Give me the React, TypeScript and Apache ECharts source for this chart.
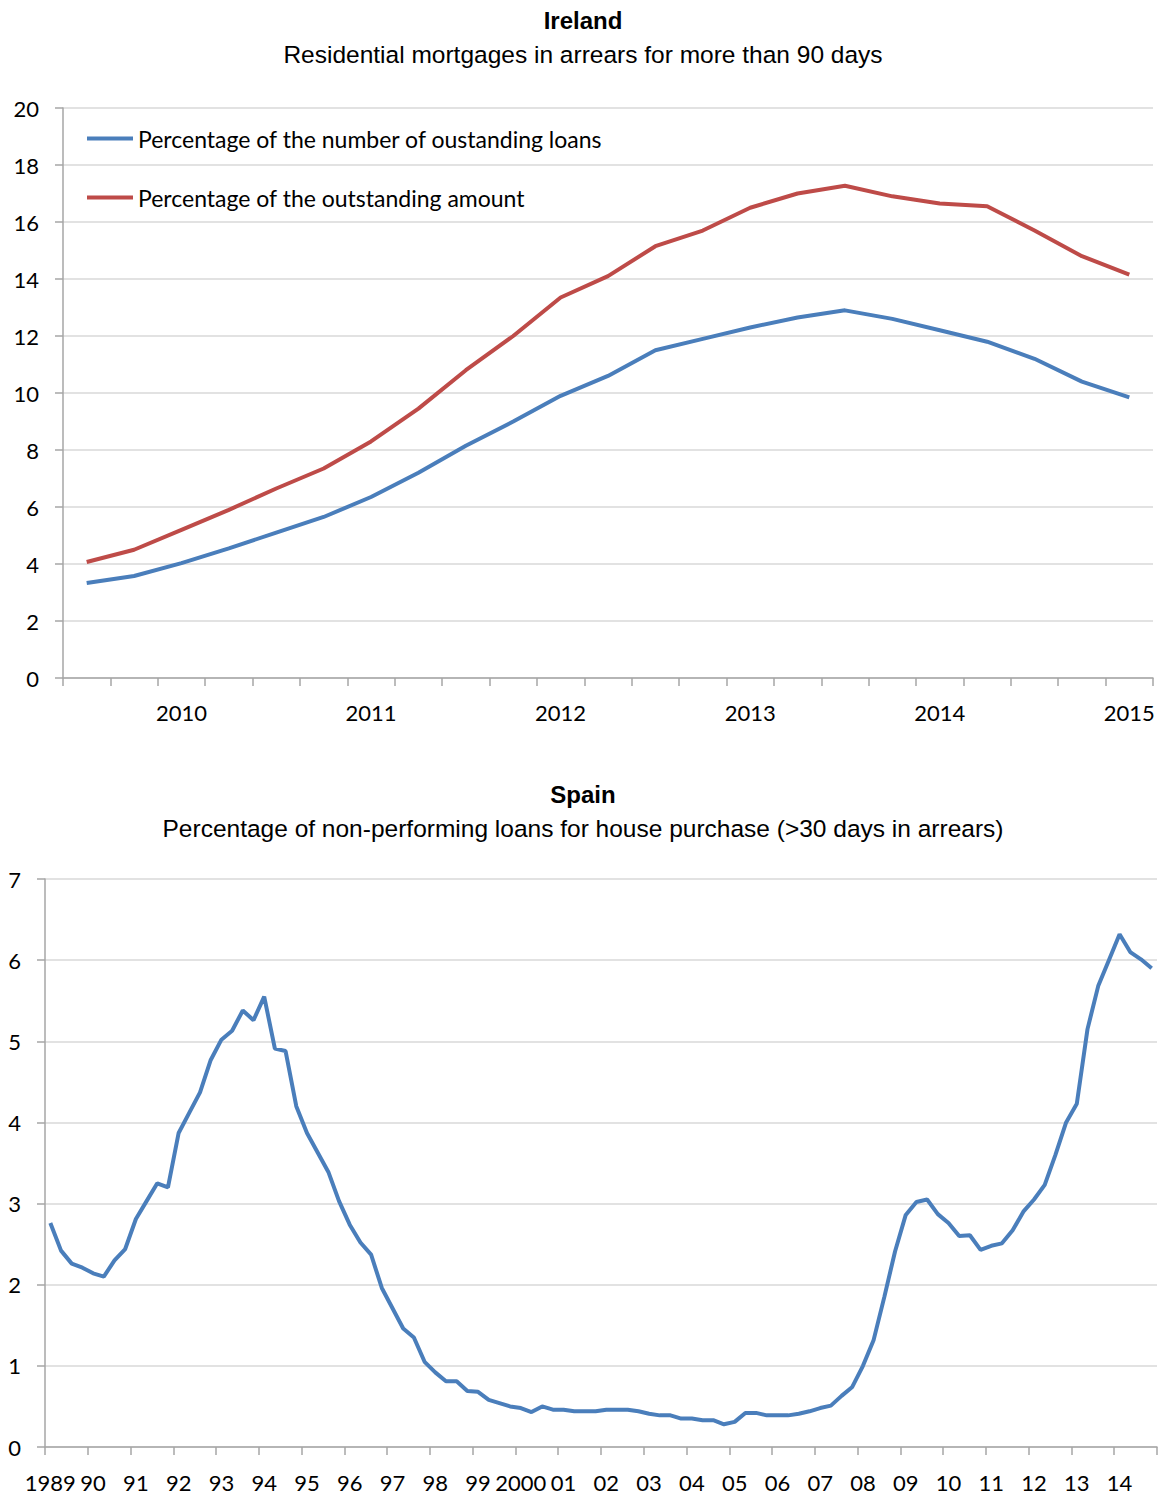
import React, { useEffect, useRef } from "react";
import * as echarts from "echarts";

// ---------- Ireland (quarterly, 2009 Q3 – 2015 Q1) ----------
const irelandQuarters = [
  "2009Q3", "2009Q4",
  "2010Q1", "2010Q2", "2010Q3", "2010Q4",
  "2011Q1", "2011Q2", "2011Q3", "2011Q4",
  "2012Q1", "2012Q2", "2012Q3", "2012Q4",
  "2013Q1", "2013Q2", "2013Q3", "2013Q4",
  "2014Q1", "2014Q2", "2014Q3", "2014Q4",
  "2015Q1",
];
const irelandLoansPct = [
  3.33, 3.58, 4.03, 4.55, 5.1, 5.65, 6.35, 7.2, 8.15, 9.0, 9.9, 10.6,
  11.5, 11.9, 12.3, 12.65, 12.9, 12.6, 12.2, 11.8, 11.2, 10.4, 9.85,
];
const irelandAmountPct = [
  4.07, 4.5, 5.2, 5.9, 6.65, 7.35, 8.3, 9.45, 10.8, 12.0, 13.35, 14.1,
  15.15, 15.7, 16.5, 17.0, 17.27, 16.9, 16.65, 16.55, 15.7, 14.8, 14.15,
];
const irelandSeriesNames = [
  "Percentage of the number of oustanding loans",
  "Percentage of the outstanding amount",
];

// ---------- Spain (quarterly, 1989 Q1 – 2014 Q4) ----------
const spainYearLabels = [
  "1989", "90", "91", "92", "93", "94", "95", "96", "97", "98", "99",
  "2000", "01", "02", "03", "04", "05", "06", "07", "08", "09", "10",
  "11", "12", "13", "14",
];
const spainQuarterNames = ["Q1", "Q2", "Q3", "Q4"];
const spainNplPct = [
  2.76, 2.42, 2.26, 2.21, 2.14, 2.10, 2.30, 2.44,
  2.81, 3.03, 3.25, 3.20, 3.87, 4.12, 4.37, 4.77,
  5.02, 5.13, 5.38, 5.26, 5.55, 4.91, 4.88, 4.20,
  3.87, 3.63, 3.39, 3.03, 2.74, 2.52, 2.37, 1.96,
  1.71, 1.46, 1.35, 1.05, 0.92, 0.81, 0.81, 0.69,
  0.68, 0.58, 0.54, 0.50, 0.48, 0.43, 0.50, 0.46,
  0.46, 0.44, 0.44, 0.44, 0.46, 0.46, 0.46, 0.44,
  0.41, 0.39, 0.39, 0.35, 0.35, 0.33, 0.33, 0.28,
  0.31, 0.42, 0.42, 0.39, 0.39, 0.39, 0.41, 0.44,
  0.48, 0.51, 0.63, 0.74, 1.00, 1.32, 1.85, 2.41,
  2.86, 3.02, 3.05, 2.87, 2.76, 2.60, 2.61, 2.43,
  2.48, 2.51, 2.67, 2.90, 3.05, 3.23, 3.60, 4.00,
  4.23, 5.15, 5.68, 6.00, 6.32, 6.10, 6.01, 5.90,
];

const titleFont = "'Liberation Sans', Arial, sans-serif";
const labelFont = "Lato, 'Liberation Sans', sans-serif";
const axisGray = "#a6a6a6";
const gridGray = "#d9d9d9";
const blue = "#4a7ebb";
const red = "#be4b48";

export default function App() {
  const ref = useRef<HTMLDivElement>(null);

  useEffect(() => {
    if (!ref.current) return;
    const chart = echarts.init(ref.current, undefined, { renderer: "svg" });

    const spainQuarters = spainYearLabels.flatMap((_, yi) =>
      spainQuarterNames.map((q) => `${1989 + yi}${q}`)
    );

    const titleStyle = (bold: boolean) => ({
      fontFamily: titleFont,
      fontSize: bold ? 24 : 24.5,
      fontWeight: bold ? "bold" : "normal",
      color: "#000",
      lineHeight: 24,
    });

    const yAxisCommon = {
      type: "value" as const,
      axisLine: { show: true, lineStyle: { color: axisGray, width: 1.5 } },
      axisTick: { show: true, length: 8, lineStyle: { color: axisGray, width: 1.5 } },
      axisLabel: { fontFamily: labelFont, fontSize: 22, color: "#000", margin: 24 },
      splitLine: { show: true, lineStyle: { color: gridGray, width: 1.5 } },
    };

    const option: any = {
      animation: false,
      title: [
        { text: "Ireland", left: "center", top: 0, padding: 0, textStyle: titleStyle(true) },
        {
          text: "Residential mortgages in arrears for more than 90 days",
          left: "center", top: 34, padding: 0, textStyle: titleStyle(false),
        },
        { text: "Spain", left: "center", top: 774, padding: 0, textStyle: titleStyle(true) },
        {
          text: "Percentage of non-performing loans for house purchase (>30 days in arrears)",
          left: "center", top: 808, padding: 0, textStyle: titleStyle(false),
        },
      ],
      legend: {
        data: irelandSeriesNames,
        orient: "vertical",
        left: 79,
        top: 119,
        padding: 0,
        itemWidth: 46,
        itemHeight: 4,
        itemGap: 36,
        icon: "rect",
        textStyle: { fontFamily: labelFont, fontSize: 23, color: "#000", lineHeight: 23 },
      },
      grid: [
        { left: 55, top: 100, width: 1090, height: 570, outerBoundsMode: "none", containLabel: false },
        { left: 37, top: 871, width: 1112, height: 568, outerBoundsMode: "none", containLabel: false },
      ],
      xAxis: [
        {
          gridIndex: 0,
          type: "category",
          data: irelandQuarters,
          boundaryGap: true,
          axisLine: { show: true, lineStyle: { color: axisGray, width: 1.5 } },
          axisTick: { show: true, interval: 0, length: 8, lineStyle: { color: axisGray, width: 1.5 } },
          axisLabel: {
            interval: (i: number) => i % 4 === 2,
            formatter: (v: string) => v.slice(0, 4),
            fontFamily: labelFont, fontSize: 22, color: "#000", margin: 23,
          },
          splitLine: { show: false },
        },
        {
          gridIndex: 1,
          type: "category",
          data: spainQuarters,
          boundaryGap: true,
          axisLine: { show: true, lineStyle: { color: axisGray, width: 1.5 } },
          axisTick: {
            show: true,
            interval: (i: number) => i % 4 === 0,
            length: 8,
            lineStyle: { color: axisGray, width: 1.5 },
          },
          axisLabel: {
            interval: (i: number) => i % 4 === 0,
            formatter: (_v: string, i: number) => spainYearLabels[Math.floor(i / 4)],
            fontFamily: labelFont, fontSize: 22, color: "#000", margin: 24,
          },
          splitLine: { show: false },
        },
      ],
      yAxis: [
        { ...yAxisCommon, gridIndex: 0, min: 0, max: 20, interval: 2 },
        { ...yAxisCommon, gridIndex: 1, min: 0, max: 7, interval: 1 },
      ],
      series: [
        {
          name: irelandSeriesNames[0],
          type: "line",
          xAxisIndex: 0, yAxisIndex: 0,
          data: irelandLoansPct,
          showSymbol: false, symbol: "none",
          lineStyle: { color: blue, width: 4 },
          itemStyle: { color: blue },
        },
        {
          name: irelandSeriesNames[1],
          type: "line",
          xAxisIndex: 0, yAxisIndex: 0,
          data: irelandAmountPct,
          showSymbol: false, symbol: "none",
          lineStyle: { color: red, width: 4 },
          itemStyle: { color: red },
        },
        {
          name: "Spain",
          type: "line",
          xAxisIndex: 1, yAxisIndex: 1,
          data: spainNplPct,
          showSymbol: false, symbol: "none",
          lineStyle: { color: blue, width: 4 },
          itemStyle: { color: blue },
        },
      ],
    };

    chart.setOption(option);
    return () => chart.dispose();
  }, []);

  return <div ref={ref} style={{ width: 1150, height: 1491 }} />;
}
